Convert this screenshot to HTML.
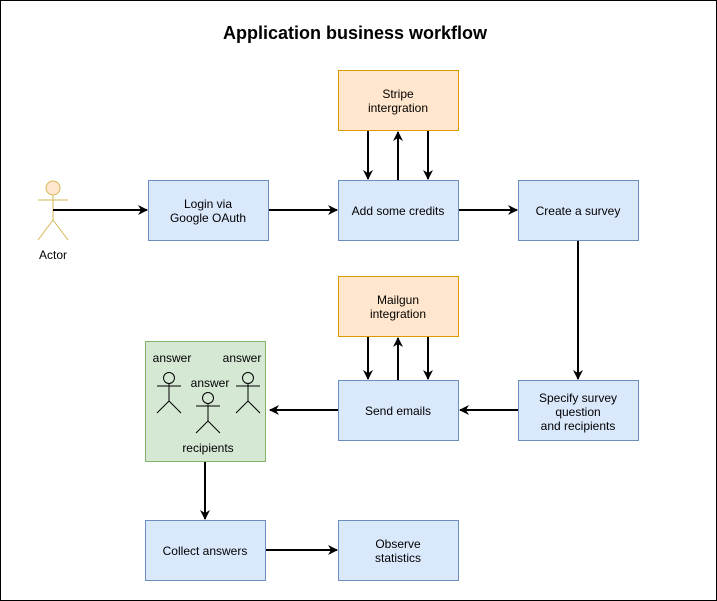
<!DOCTYPE html>
<html><head><meta charset="utf-8"><style>
html,body{margin:0;padding:0;background:#fff}
svg{display:block;font-family:"Liberation Sans",Arial,sans-serif}
</style></head><body>
<svg width="717" height="601" viewBox="0 0 717 601" xmlns="http://www.w3.org/2000/svg">
<defs>
<marker id="a" markerWidth="10" markerHeight="10" refX="9" refY="5" orient="auto" markerUnits="userSpaceOnUse">
<path d="M0,0 L10,5 L0,10 L3,5 Z" fill="#000"/>
</marker>
</defs>
<rect x="0.5" y="0.5" width="716" height="600" fill="#fff" stroke="#000"/>
<text x="355" y="39" text-anchor="middle" font-size="18" font-weight="bold">Application business workflow</text>

<g stroke="#d6b656" fill="none" stroke-width="1">
<circle cx="53" cy="188" r="7" fill="#ffe6cc"/>
<line x1="53" y1="195" x2="53" y2="220"/>
<line x1="38" y1="200" x2="68" y2="200"/>
<line x1="53" y1="220" x2="38" y2="240"/>
<line x1="53" y1="220" x2="68" y2="240"/>
</g>
<text x="53" y="259" text-anchor="middle" font-size="12">Actor</text>

<g stroke-width="1" font-size="12">
<rect x="148.5" y="180.5" width="120" height="60" fill="#dae8fc" stroke="#6c8ebf"/>
<rect x="338.5" y="180.5" width="120" height="60" fill="#dae8fc" stroke="#6c8ebf"/>
<rect x="518.5" y="180.5" width="120" height="60" fill="#dae8fc" stroke="#6c8ebf"/>
<rect x="338.5" y="70.5" width="120" height="60" fill="#ffe6cc" stroke="#d79b00"/>
<rect x="338.5" y="276.5" width="120" height="60" fill="#ffe6cc" stroke="#d79b00"/>
<rect x="338.5" y="380.5" width="120" height="60" fill="#dae8fc" stroke="#6c8ebf"/>
<rect x="518.5" y="380.5" width="120" height="60" fill="#dae8fc" stroke="#6c8ebf"/>
<rect x="145.5" y="341.5" width="120" height="120" fill="#d5e8d4" stroke="#82b366"/>
<rect x="145.5" y="520.5" width="120" height="60" fill="#dae8fc" stroke="#6c8ebf"/>
<rect x="338.5" y="520.5" width="120" height="60" fill="#dae8fc" stroke="#6c8ebf"/>
</g>

<g font-size="12" text-anchor="middle" fill="#000">
<text x="208" y="208">Login via</text><text x="208" y="222">Google OAuth</text>
<text x="398" y="215">Add some credits</text>
<text x="578" y="215">Create a survey</text>
<text x="398" y="98">Stripe</text><text x="398" y="112">intergration</text>
<text x="398" y="304">Mailgun</text><text x="398" y="318">integration</text>
<text x="398" y="415">Send emails</text>
<text x="578" y="402">Specify survey</text><text x="578" y="416">question</text><text x="578" y="430">and recipients</text>
<text x="205" y="555">Collect answers</text>
<text x="398" y="548">Observe</text><text x="398" y="562">statistics</text>
<text x="172" y="362">answer</text>
<text x="242" y="362">answer</text>
<text x="210" y="387">answer</text>
<text x="208" y="452">recipients</text>
</g>

<g stroke="#000" fill="none" stroke-width="1">
<circle cx="169" cy="378" r="5.5"/><line x1="169" y1="383.5" x2="169" y2="401"/><line x1="157" y1="386" x2="181" y2="386"/><line x1="169" y1="401" x2="157" y2="413"/><line x1="169" y1="401" x2="181" y2="413"/>
<circle cx="208" cy="398" r="5.5"/><line x1="208" y1="403.5" x2="208" y2="421"/><line x1="196" y1="406" x2="220" y2="406"/><line x1="208" y1="421" x2="196" y2="433"/><line x1="208" y1="421" x2="220" y2="433"/>
<circle cx="248" cy="378" r="5.5"/><line x1="248" y1="383.5" x2="248" y2="401"/><line x1="236" y1="386" x2="260" y2="386"/><line x1="248" y1="401" x2="236" y2="413"/><line x1="248" y1="401" x2="260" y2="413"/>
</g>

<g stroke="#000" stroke-width="2" fill="none" marker-end="url(#a)">
<line x1="53" y1="210" x2="147" y2="210"/>
<line x1="269" y1="210" x2="337" y2="210"/>
<line x1="459" y1="210" x2="517" y2="210"/>
<line x1="368" y1="131" x2="368" y2="179"/>
<line x1="398" y1="180" x2="398" y2="132"/>
<line x1="428" y1="131" x2="428" y2="179"/>
<line x1="368" y1="337" x2="368" y2="379"/>
<line x1="398" y1="380" x2="398" y2="338"/>
<line x1="428" y1="337" x2="428" y2="379"/>
<line x1="578" y1="241" x2="578" y2="379"/>
<line x1="518" y1="410" x2="460" y2="410"/>
<line x1="338" y1="410" x2="270" y2="410"/>
<line x1="205" y1="462" x2="205" y2="519"/>
<line x1="266" y1="550" x2="337" y2="550"/>
</g>
</svg>
</body></html>
